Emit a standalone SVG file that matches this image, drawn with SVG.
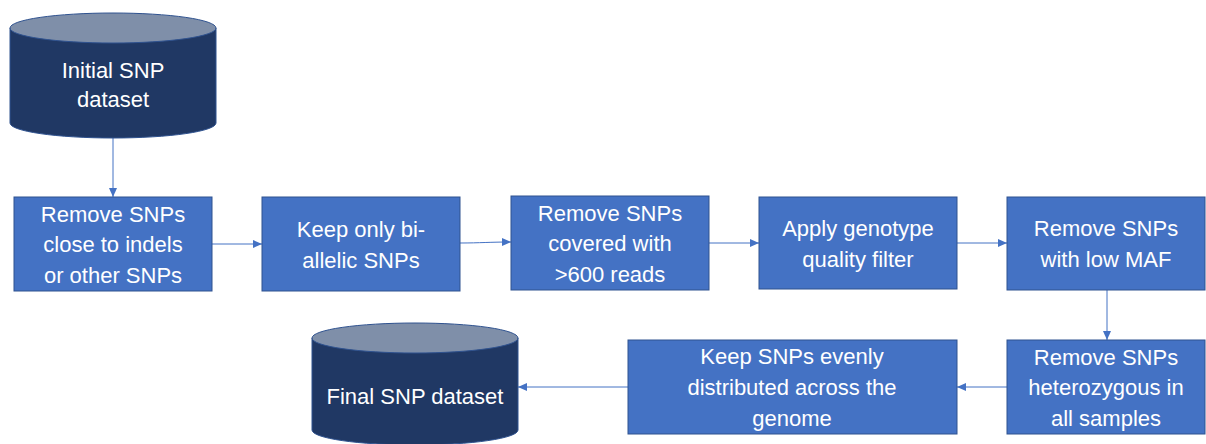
<svg xmlns="http://www.w3.org/2000/svg" width="1206" height="444" viewBox="0 0 1206 444">
<style>
.box{fill:#4472C4;stroke:#2F528F;stroke-width:1}
.cyl{fill:#203864;stroke:#2F528F;stroke-width:1}
.top{fill:#7F8FA9;stroke:#2F528F;stroke-width:1}
.t{font-family:"Liberation Sans",Arial,sans-serif;font-size:22px;fill:#FFFFFF;text-anchor:middle}
.c{fill:none;stroke:#4472C4;stroke-width:1}
</style>
<defs>
<marker id="ah" markerUnits="userSpaceOnUse" markerWidth="10" markerHeight="10" refX="9" refY="5" orient="auto">
<path d="M0,1 L9,5 L0,9 Z" fill="#4472C4"/>
</marker>
</defs>
<rect width="1206" height="444" fill="#FFFFFF"/>
<g id="connectors">
<line class="c" x1="113" y1="138" x2="113" y2="197" marker-end="url(#ah)"/>
<line class="c" x1="212" y1="244" x2="262" y2="244" marker-end="url(#ah)"/>
<path class="c" d="M460,243 C480,243 490,242 511,242" marker-end="url(#ah)"/>
<line class="c" x1="709" y1="243" x2="759" y2="243" marker-end="url(#ah)"/>
<line class="c" x1="957" y1="243" x2="1007" y2="243" marker-end="url(#ah)"/>
<line class="c" x1="1107" y1="290" x2="1107" y2="340" marker-end="url(#ah)"/>
<line class="c" x1="1007" y1="387" x2="957" y2="387" marker-end="url(#ah)"/>
<line class="c" x1="628" y1="387" x2="518" y2="387" marker-end="url(#ah)"/>
</g>
<g id="initial">
<path class="cyl" d="M10,28 L10,123 A103,15 0 0 0 216,123 L216,28 Z"/>
<ellipse class="top" cx="113" cy="28" rx="103" ry="15"/>
<text class="t" x="113" y="78">Initial SNP</text>
<text class="t" x="113" y="107">dataset</text>
</g>
<g id="n1">
<rect class="box" x="14" y="197" width="198" height="94"/>
<text class="t" x="113" y="222">Remove SNPs</text>
<text class="t" x="113" y="252">close to indels</text>
<text class="t" x="113" y="283">or other SNPs</text>
</g>
<g id="n2">
<rect class="box" x="262" y="197" width="198" height="94"/>
<text class="t" x="361" y="237">Keep only bi-</text>
<text class="t" x="361" y="268">allelic SNPs</text>
</g>
<g id="n3">
<rect class="box" x="511" y="196" width="198" height="94"/>
<text class="t" x="610" y="221">Remove SNPs</text>
<text class="t" x="610" y="251">covered with</text>
<text class="t" x="610" y="282">&gt;600 reads</text>
</g>
<g id="n4">
<rect class="box" x="759" y="197" width="198" height="92"/>
<text class="t" x="858" y="236">Apply genotype</text>
<text class="t" x="858" y="267">quality filter</text>
</g>
<g id="n5">
<rect class="box" x="1007" y="197" width="198" height="93"/>
<text class="t" x="1106" y="236">Remove SNPs</text>
<text class="t" x="1106" y="267">with low MAF</text>
</g>
<g id="n6">
<rect class="box" x="1007" y="340" width="198" height="94"/>
<text class="t" x="1106" y="365">Remove SNPs</text>
<text class="t" x="1106" y="395">heterozygous in</text>
<text class="t" x="1106" y="426">all samples</text>
</g>
<g id="n7">
<rect class="box" x="628" y="340" width="329" height="94"/>
<text class="t" x="792" y="364">Keep SNPs evenly</text>
<text class="t" x="792" y="395">distributed across the</text>
<text class="t" x="792" y="426">genome</text>
</g>
<g id="final">
<path class="cyl" d="M312,338 L312,430 A103,15 0 0 0 518,430 L518,338 Z"/>
<ellipse class="top" cx="415" cy="338" rx="103" ry="15"/>
<text class="t" x="415" y="404">Final SNP dataset</text>
</g>
</svg>
